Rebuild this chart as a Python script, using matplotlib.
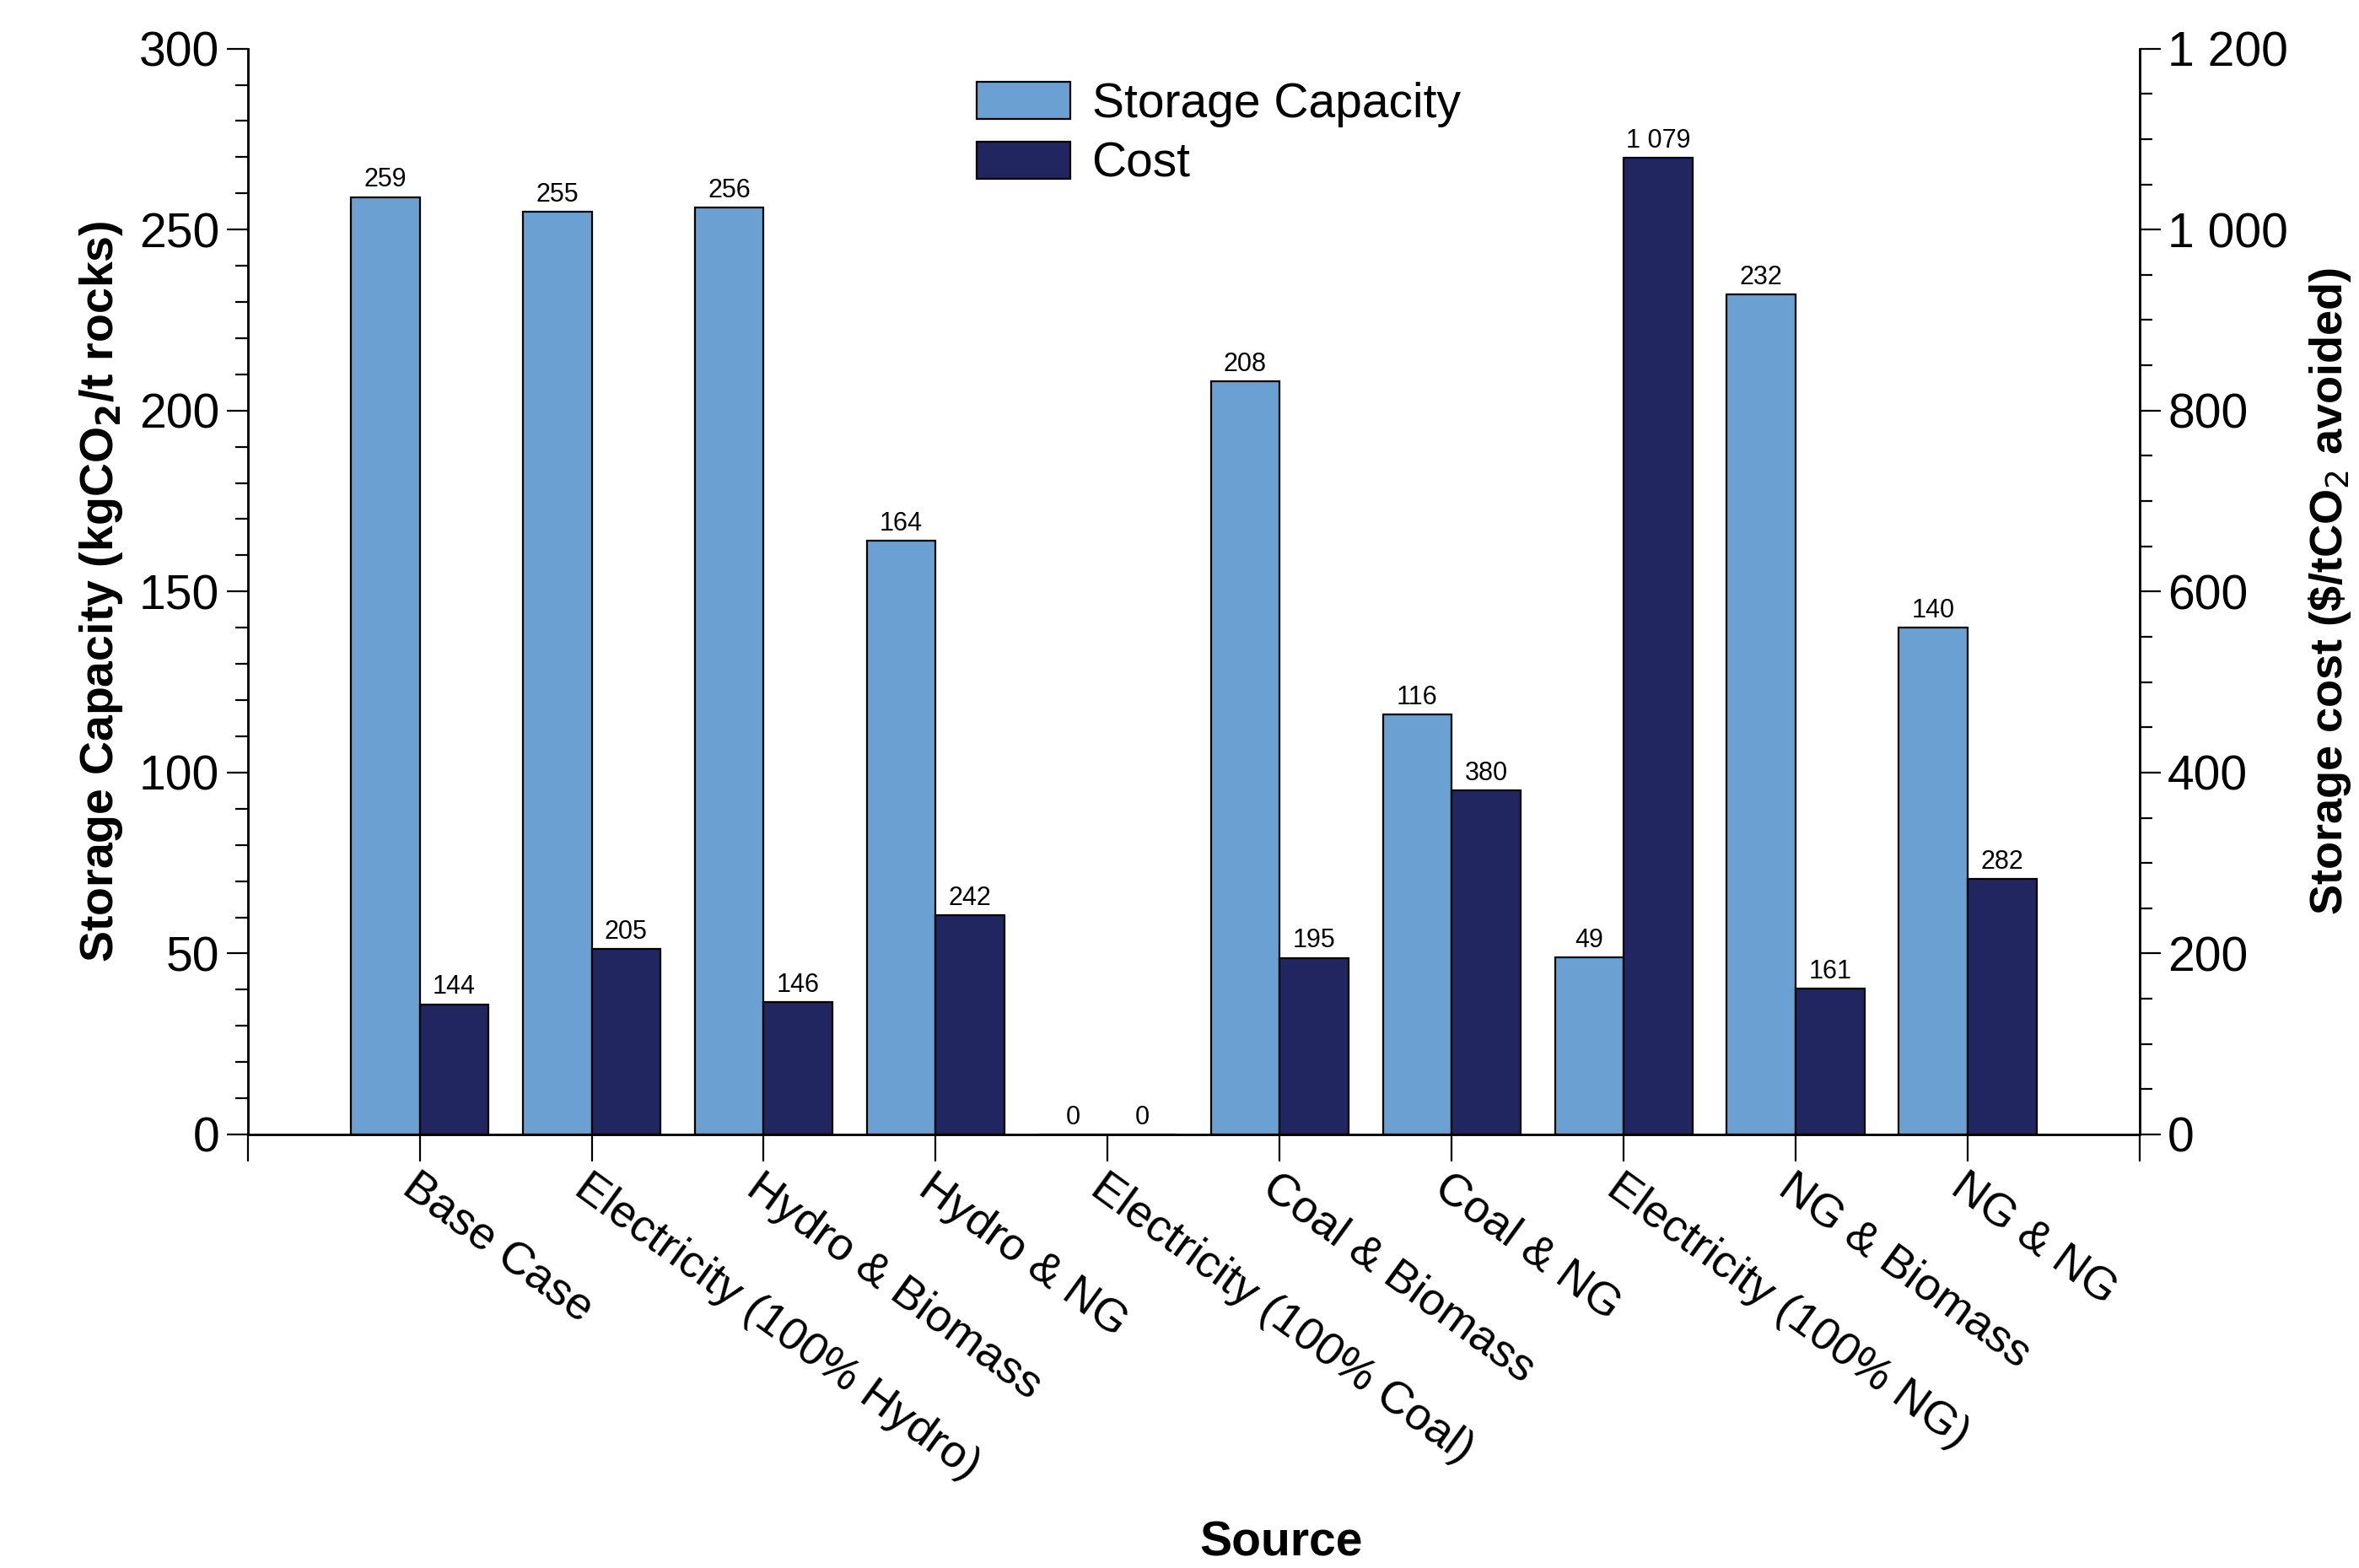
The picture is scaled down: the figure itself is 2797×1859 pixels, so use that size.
import numpy as np
import matplotlib
matplotlib.use("Agg")
from matplotlib import pyplot as plt
from matplotlib.ticker import MultipleLocator, FuncFormatter

plt.rcParams['font.family'] = ['Liberation Sans', 'DejaVu Sans']

sources = ['Base Case', 'Electricity (100% Hydro)', 'Hydro & Biomass', 'Hydro & NG',
           'Electricity (100% Coal)', 'Coal & Biomass', 'Coal & NG',
           'Electricity (100% NG)', 'NG & Biomass', 'NG & NG']
capacity = [259, 255, 256, 164, 0, 208, 116, 49, 232, 140]
cost = [144, 205, 146, 242, 0, 195, 380, 1079, 161, 282]

light = '#6aa0d2'
dark = '#212660'


def spaced(v, pos=None):
    return f"{v:,.0f}".replace(",", " ")


fig = plt.figure(figsize=(2797 / 200, 1859 / 200), dpi=200)
ax = fig.add_axes([0.105, 0.2765, 0.802, 0.6925])
ax2 = ax.twinx()

x = np.arange(len(sources))
w = 0.4
b1 = ax.bar(x - w / 2, capacity, w, color=light, edgecolor='black', linewidth=0.8, label='Storage Capacity')
b2 = ax2.bar(x + w / 2, cost, w, color=dark, edgecolor='black', linewidth=0.8, label='Cost')

for rect, v in zip(b1, capacity):
    ax.text(rect.get_x() + rect.get_width() / 2, v + 1.2, spaced(v), ha='center', va='bottom', fontsize=11)
for rect, v in zip(b2, cost):
    ax2.text(rect.get_x() + rect.get_width() / 2, v + 5, spaced(v), ha='center', va='bottom', fontsize=11)

ax.set_xlim(-1, 10)
ax.set_ylim(0, 300)
ax2.set_ylim(0, 1200)

ax.set_xticks(list(x) + [-1, 10])
ax.set_xticklabels(sources + ['', ''], rotation=-36, ha='left', va='top', rotation_mode='anchor', fontsize=19.5)
ax.tick_params(axis='x', length=11.5, width=0.8, direction='out', pad=2)

ax.yaxis.set_major_locator(MultipleLocator(50))
ax.yaxis.set_minor_locator(MultipleLocator(10))
ax.tick_params(axis='y', which='major', length=9, width=0.8, labelsize=20.5, pad=3)
ax.tick_params(axis='y', which='minor', length=5.4, width=0.8)

ax2.yaxis.set_major_locator(MultipleLocator(200))
ax2.yaxis.set_minor_locator(MultipleLocator(50))
ax2.yaxis.set_major_formatter(FuncFormatter(spaced))
ax2.tick_params(axis='y', which='major', length=9, width=0.8, labelsize=20.5, pad=3)
ax2.tick_params(axis='y', which='minor', length=5.4, width=0.8)

for a in (ax, ax2):
    a.spines['top'].set_visible(False)
    for s in ('left', 'right', 'bottom'):
        a.spines[s].set_linewidth(0.9)

ax.set_ylabel('Storage Capacity (kgCO$_\\mathbf{2}$/t rocks)', fontsize=20, fontweight='bold', labelpad=6)
ax2.set_ylabel('Storage cost (\\$/tCO$_2$ avoided)', fontsize=19.5, fontweight='bold', rotation=90,
               labelpad=8)
fig.text(0.543, 0.016, 'Source', ha='center', va='center', fontsize=20.5, fontweight='bold')

ax.legend([b1, b2], ['Storage Capacity', 'Cost'], loc='upper left',
          bbox_to_anchor=(0.414, 0.948), bbox_transform=fig.transFigure,
          frameon=False, fontsize=20.5, borderpad=0, borderaxespad=0,
          handlelength=1.95, handleheight=0.8, labelspacing=0.3, handletextpad=0.45)

fig.savefig('out.png', dpi=200)
